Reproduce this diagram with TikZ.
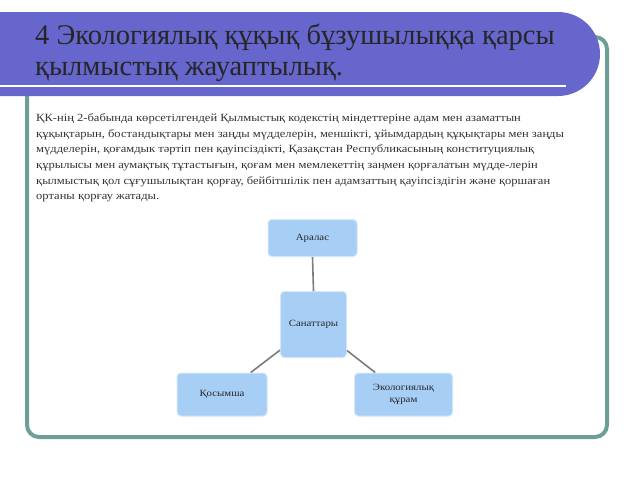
\documentclass[tikz,border=0pt]{standalone}
\usepackage{fontspec}
\setmainfont{Liberation Serif}
\newfontfamily\widefont[FakeStretch=1.14]{Liberation Serif}
\definecolor{banner}{HTML}{6666CC}
\definecolor{frameteal}{HTML}{6E9F97}
\definecolor{boxblue}{HTML}{A7CEF5}
\definecolor{boxedge}{HTML}{D2E6FB}
\definecolor{linkgray}{HTML}{7C7C7C}
\definecolor{bodytext}{HTML}{333333}
\begin{document}
\begin{tikzpicture}[x=1pt,y=-1pt,
  catbox/.style={draw=boxedge, line width=1pt, fill=boxblue, rounded corners=4pt,
    font=\widefont\fontsize{9.5}{11.5}\selectfont, text=black!85, align=center, inner sep=0pt},
  link/.style={draw=linkgray, line width=1.6pt},
  bodyline/.style={anchor=base west, inner sep=0pt, font=\widefont\fontsize{11}{13}\selectfont, text=bodytext},
  titleline/.style={anchor=base west, inner sep=0pt, font=\fontsize{28.5}{32}\selectfont, text=black!85}]
\useasboundingbox (0,0) rectangle (640,480);
\fill[white] (0,0) rectangle (640,480);
% outer frame
\draw[frameteal, line width=4pt, rounded corners=12pt] (27,37) rectangle (607,437);
% title banner
\fill[banner, rounded corners=42pt] (-50,12) rectangle (600,96);
\fill[banner] (-2,12) rectangle (300,96);
\draw[white, line width=2pt] (0,86) -- (566,86);
\node[titleline] (t1) at (35,44) {4 Экологиялық құқық бұзушылыққа қарсы};
\node[titleline] (t2) at (35,75) {қылмыстық жауаптылық.};
% body
\node[bodyline] (b1) at (36,121) {ҚК-нің 2-бабында көрсетілгендей Қылмыстық кодекстің міндеттеріне адам мен азаматтын};
\node[bodyline] (b2) at (36,137) {құқықтарын, бостандықтары мен заңды мүдделерін, меншікті, ұйымдардың құқықтары мен заңды};
\node[bodyline] (b3) at (36,152.5) {мүдделерін, қоғамдык тәртіп пен қауіпсіздікті, Қазақстан Республикасының конституциялық};
\node[bodyline] (b4) at (36,168) {құрылысы мен аумақтық тұтастығын, қоғам мен мемлекеттің заңмен қорғалатын мүдде-лерін};
\node[bodyline] (b5) at (36,184) {қылмыстық қол сұғушылықтан қорғау, бейбітшілік пен адамзаттың қауіпсіздігін және қоршаған};
\node[bodyline] (b6) at (36,199.5) {ортаны қорғау жатады.};
% diagram
\node[catbox, minimum width=89pt, minimum height=37pt] (aralas) at (312.5,238) {Аралас};
\node[catbox, minimum width=66pt, minimum height=66pt] (san) at (313.5,324.5) {Санаттары};
\node[catbox, minimum width=90pt, minimum height=43pt] (kos) at (222,394.5) {Қосымша};
\node[catbox, minimum width=98pt, minimum height=43pt] (eco) at (403.5,394.5) {Экологиялық\\құрам};
\draw[link] (aralas.south) -- (san.north);
\draw[link] (san) -- (kos);
\draw[link] (san) -- (eco);
\end{tikzpicture}
\end{document}
